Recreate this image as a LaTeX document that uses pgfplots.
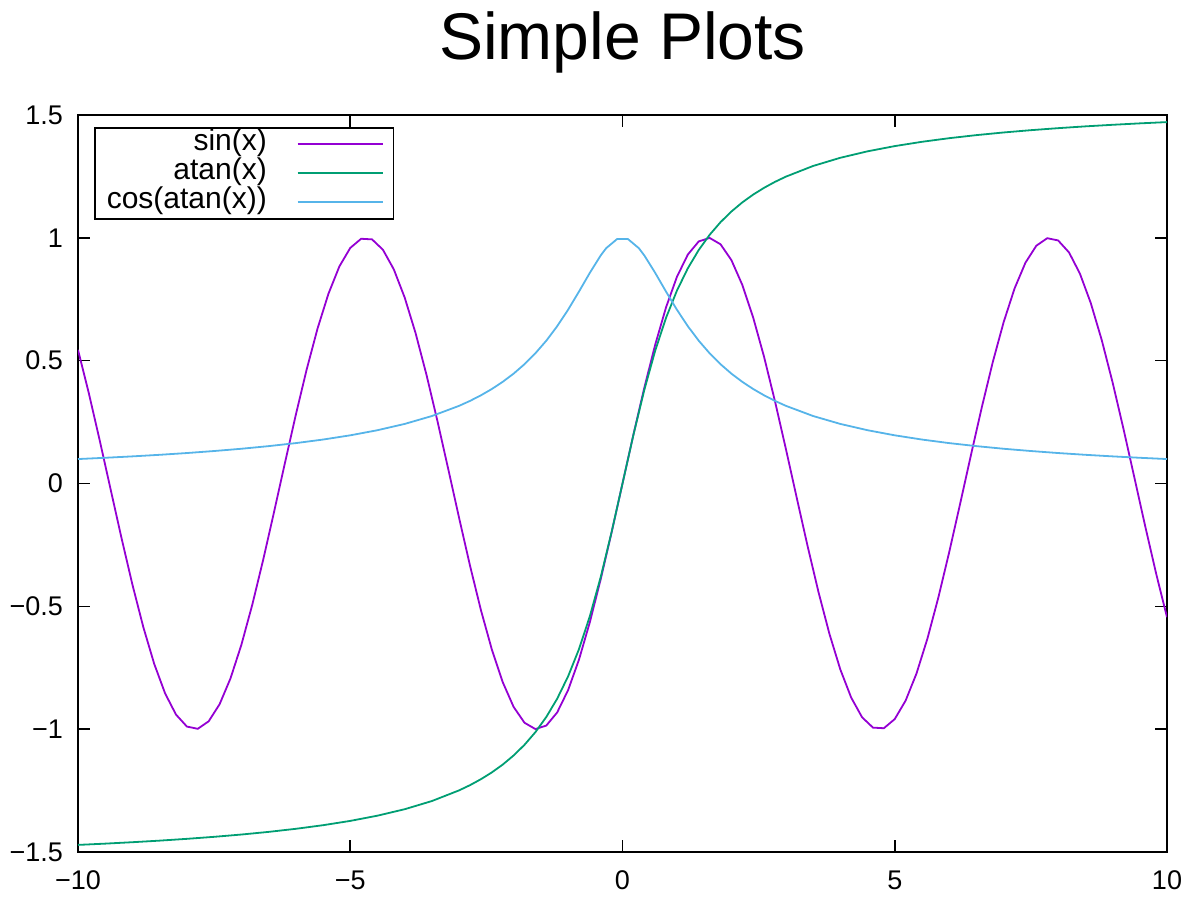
\documentclass[border=0pt]{standalone}
\usepackage{pgfplots}
\pgfplotsset{compat=1.18}
\usepackage{fontspec}
\setmainfont{Liberation Sans}
\definecolor{gpPurple}{HTML}{9400D3}
\definecolor{gpGreen}{HTML}{009E73}
\definecolor{gpBlue}{HTML}{56B4E9}
\begin{document}
\begin{tikzpicture}
\begin{axis}[
  scale only axis, width=544.5pt, height=368.5pt,
  xmin=-10, xmax=10, ymin=-1.5, ymax=1.5,
  xtick={-10,-5,0,5,10}, xticklabels={−10,−5,0,5,10},
  ytick={-1.5,-1,-0.5,0,0.5,1,1.5},
  yticklabels={−1.5,−1,−0.5,0,0.5,1,1.5},
  tick align=inside, major tick length=6pt, tick style={black, line width=0.8pt},
  axis line style={line width=1pt},
  ticklabel style={font=\fontsize{13.5}{15}\selectfont},
  xticklabel style={yshift=-6pt}, yticklabel style={xshift=-4pt},
  title={Simple Plots},
  title style={font=\fontsize{33}{36}\selectfont, inner sep=0pt, at={(0.5,1)}, anchor=base, yshift=21.5pt},
  legend style={at={(0,1)}, anchor=north west, xshift=8pt, yshift=-6pt,
    draw=black, line width=0.8pt, font=\fontsize{15}{15}\selectfont,
    cells={anchor=east}, row sep=0pt, inner xsep=5pt, inner ysep=1pt,
    nodes={inner sep=1pt, text height=9.5pt, text depth=3pt},
    /tikz/every odd column/.append style={column sep=14pt}},
  legend plot pos=right,
  legend image code/.code={\draw[#1, line width=0.9pt] (0pt,0pt) -- (42.5pt,0pt);},
]
\addlegendimage{gpPurple}
\addlegendentry{sin(x)}
\addlegendimage{gpGreen}
\addlegendentry{atan(x)}
\addlegendimage{gpBlue}
\addlegendentry{cos(atan(x))}
\addplot[gpPurple, line width=0.9pt, forget plot] coordinates {
(-10,0.5440) (-9.8,0.3665) (-9.6,0.1743) (-9.4,-0.0248) (-9.2,-0.2229) (-9.0,-0.4121)
(-8.8,-0.5849) (-8.6,-0.7344) (-8.4,-0.8546) (-8.2,-0.9407) (-8.0,-0.9894) (-7.8,-0.9985)
(-7.6,-0.9679) (-7.4,-0.8987) (-7.2,-0.7937) (-7.0,-0.6570) (-6.8,-0.4941) (-6.6,-0.3115)
(-6.4,-0.1165) (-6.2,0.0831) (-6.0,0.2794) (-5.8,0.4646) (-5.6,0.6313) (-5.4,0.7728)
(-5.2,0.8835) (-5.0,0.9589) (-4.8,0.9962) (-4.6,0.9937) (-4.4,0.9516) (-4.2,0.8716)
(-4.0,0.7568) (-3.8,0.6119) (-3.6,0.4425) (-3.4,0.2555) (-3.2,0.0584) (-3.0,-0.1411)
(-2.8,-0.3350) (-2.6,-0.5155) (-2.4,-0.6755) (-2.2,-0.8085) (-2.0,-0.9093) (-1.8,-0.9738)
(-1.6,-0.9996) (-1.4,-0.9854) (-1.2,-0.9320) (-1.0,-0.8415) (-0.8,-0.7174) (-0.6,-0.5646)
(-0.4,-0.3894) (-0.2,-0.1987) (0,0)
(0.2,0.1987) (0.4,0.3894) (0.6,0.5646) (0.8,0.7174) (1.0,0.8415) (1.2,0.9320)
(1.4,0.9854) (1.6,0.9996) (1.8,0.9738) (2.0,0.9093) (2.2,0.8085) (2.4,0.6755)
(2.6,0.5155) (2.8,0.3350) (3.0,0.1411) (3.2,-0.0584) (3.4,-0.2555) (3.6,-0.4425)
(3.8,-0.6119) (4.0,-0.7568) (4.2,-0.8716) (4.4,-0.9516) (4.6,-0.9937) (4.8,-0.9962)
(5.0,-0.9589) (5.2,-0.8835) (5.4,-0.7728) (5.6,-0.6313) (5.8,-0.4646) (6.0,-0.2794)
(6.2,-0.0831) (6.4,0.1165) (6.6,0.3115) (6.8,0.4941) (7.0,0.6570) (7.2,0.7937)
(7.4,0.8987) (7.6,0.9679) (7.8,0.9985) (8.0,0.9894) (8.2,0.9407) (8.4,0.8546)
(8.6,0.7344) (8.8,0.5849) (9.0,0.4121) (9.2,0.2229) (9.4,0.0248) (9.6,-0.1743)
(9.8,-0.3665) (10,-0.5440)
};
\addplot[gpGreen, line width=0.9pt, forget plot] coordinates {
(-10,-1.4711) (-9.5,-1.4659) (-9,-1.4601) (-8.5,-1.4537) (-8,-1.4464) (-7.5,-1.4382)
(-7,-1.4289) (-6.5,-1.4181) (-6,-1.4056) (-5.5,-1.3909) (-5,-1.3734) (-4.5,-1.3521)
(-4,-1.3258) (-3.5,-1.2925) (-3.0,-1.2490) (-2.8,-1.2278) (-2.6,-1.2036) (-2.4,-1.1760)
(-2.2,-1.1442) (-2.0,-1.1071) (-1.8,-1.0637) (-1.6,-1.0122) (-1.4,-0.9505) (-1.2,-0.8761)
(-1.0,-0.7854) (-0.8,-0.6747) (-0.6,-0.5404) (-0.4,-0.3805) (-0.2,-0.1974) (0,0)
(0.2,0.1974) (0.4,0.3805) (0.6,0.5404) (0.8,0.6747) (1.0,0.7854) (1.2,0.8761)
(1.4,0.9505) (1.6,1.0122) (1.8,1.0637) (2.0,1.1071) (2.2,1.1442) (2.4,1.1760)
(2.6,1.2036) (2.8,1.2278) (3.0,1.2490) (3.5,1.2925) (4,1.3258) (4.5,1.3521)
(5,1.3734) (5.5,1.3909) (6,1.4056) (6.5,1.4181) (7,1.4289) (7.5,1.4382)
(8,1.4464) (8.5,1.4537) (9,1.4601) (9.5,1.4659) (10,1.4711)
};
\addplot[gpBlue, line width=0.9pt, forget plot] coordinates {
(-10,0.0995) (-9.5,0.1047) (-9,0.1104) (-8.5,0.1168) (-8,0.1240) (-7.5,0.1322)
(-7,0.1414) (-6.5,0.1521) (-6,0.1644) (-5.5,0.1789) (-5,0.1961) (-4.5,0.2169)
(-4,0.2425) (-3.5,0.2747) (-3.0,0.3162) (-2.8,0.3363) (-2.6,0.3590) (-2.4,0.3846)
(-2.2,0.4138) (-2.0,0.4472) (-1.8,0.4856) (-1.6,0.5300) (-1.4,0.5812) (-1.2,0.6402)
(-1.0,0.7071) (-0.8,0.7809) (-0.6,0.8575) (-0.4,0.9285) (-0.3,0.9578) (-0.1,0.9950)
(0.1,0.9950) (0.3,0.9578) (0.4,0.9285) (0.6,0.8575) (0.8,0.7809) (1.0,0.7071)
(1.2,0.6402) (1.4,0.5812) (1.6,0.5300) (1.8,0.4856) (2.0,0.4472) (2.2,0.4138)
(2.4,0.3846) (2.6,0.3590) (2.8,0.3363) (3.0,0.3162) (3.5,0.2747) (4,0.2425)
(4.5,0.2169) (5,0.1961) (5.5,0.1789) (6,0.1644) (6.5,0.1521) (7,0.1414)
(7.5,0.1322) (8,0.1240) (8.5,0.1168) (9,0.1104) (9.5,0.1047) (10,0.0995)
};
\end{axis}
\path ([shift={(-39pt,-29pt)}]current axis.south west) rectangle ([shift={(15pt,57.5pt)}]current axis.north east);
\end{tikzpicture}
\end{document}
